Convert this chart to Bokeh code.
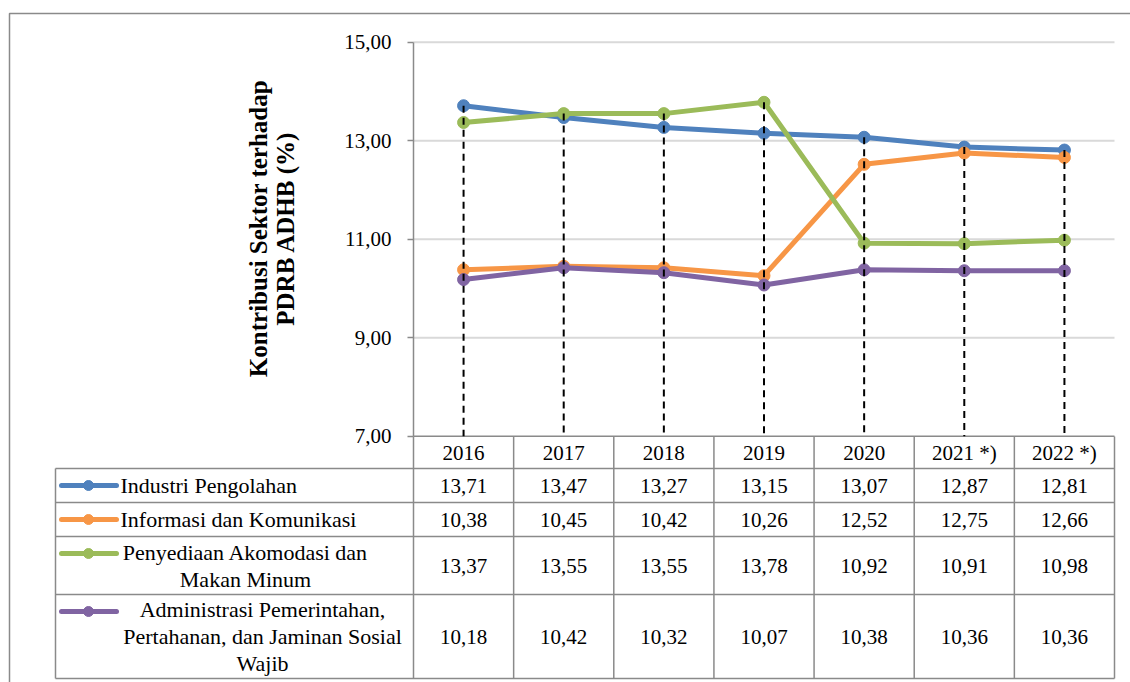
import math
from bokeh.plotting import figure
from bokeh.models import Range1d, LinearAxis, FixedTicker, CustomJSTickFormatter
from bokeh.core.properties import value
from bokeh.embed import file_html
from bokeh.resources import INLINE

# ---------------- data ----------------
years = ["2016", "2017", "2018", "2019", "2020", "2021 *)", "2022 *)"]
industri = [13.71, 13.47, 13.27, 13.15, 13.07, 12.87, 12.81]
informasi = [10.38, 10.45, 10.42, 10.26, 12.52, 12.75, 12.66]
akomodasi = [13.37, 13.55, 13.55, 13.78, 10.92, 10.91, 10.98]
administrasi = [10.18, 10.42, 10.32, 10.07, 10.38, 10.36, 10.36]
sector_names = [
    "Industri Pengolahan",
    "Informasi dan Komunikasi",
    "Penyediaan Akomodasi dan\nMakan Minum",
    "Administrasi Pemerintahan,\nPertahanan, dan Jaminan Sosial\nWajib",
]
y_ticks = [7, 9, 11, 13, 15]
y_title = "Kontribusi Sektor terhadap\nPDRB ADHB (%)"

series = [industri, informasi, akomodasi, administrasi]
colors = ["#4F81BD", "#F79646", "#9BBB59", "#8064A2"]

# ---------------- layout geometry (page pixels) ----------------
PAGE_L, PAGE_T, PAGE_R, PAGE_B = 0, 0, 1130, 682
W, H = PAGE_R - PAGE_L, PAGE_B - PAGE_T
AX_L, AX_R = 413.0, 1114.0          # plot area left / right
Y_TOP, Y_BOT = 41.7, 435.7          # pixel of 15 and 7
ncat = len(years)
colw = (AX_R - AX_L) / ncat
ppu = (Y_BOT - Y_TOP) / (y_ticks[-1] - y_ticks[0])
x_start = (PAGE_L - AX_L) / colw
x_end = ncat + (PAGE_R - AX_R) / colw
y_end = y_ticks[-1] + (Y_TOP - PAGE_T) / ppu
y_start = y_ticks[0] - (PAGE_B - Y_BOT) / ppu

GRAY = "#8a8a8a"
SERIF = value("Liberation Serif")

p = figure(width=W, height=H, output_backend="svg", toolbar_location=None,
           x_range=Range1d(x_start, x_end), y_range=Range1d(y_start, y_end),
           x_axis_location=None, y_axis_location=None, min_border=0)
p.outline_line_color = None
p.background_fill_color = "white"
p.border_fill_color = "white"
p.grid.visible = False
p.extra_x_ranges = {"px": Range1d(PAGE_L, PAGE_R)}
p.extra_y_ranges = {"py": Range1d(PAGE_B, PAGE_T)}

# outer chart border
p.line(x=[9, 9, PAGE_R + 5], y=[PAGE_B + 5, 13, 13], line_color=GRAY, line_width=1.5,
       x_range_name="px", y_range_name="py")

# gridlines
grid_vals = y_ticks[1:]
p.segment(x0=[0] * len(grid_vals), x1=[ncat] * len(grid_vals), y0=grid_vals, y1=grid_vals,
          line_color="#d9d9d9", line_width=2)

# y axis
yaxis = LinearAxis(fixed_location=0, ticker=FixedTicker(ticks=y_ticks),
                   bounds=(y_ticks[0], y_ticks[-1]),
                   formatter=CustomJSTickFormatter(code="return tick.toFixed(2).replace('.', ',');"))
yaxis.axis_line_color = GRAY
yaxis.axis_line_width = 1.5
yaxis.major_tick_line_color = GRAY
yaxis.major_tick_line_width = 1.5
yaxis.major_tick_out = 6
yaxis.major_tick_in = 0
yaxis.minor_tick_out = 0
yaxis.minor_tick_in = 0
yaxis.major_label_text_font = "Liberation Serif"
yaxis.major_label_text_font_size = "21px"
yaxis.major_label_text_color = "black"
yaxis.major_label_standoff = 16
p.add_layout(yaxis, "left")

# axis title
p.text(x=[271], y=[228], text=[y_title], angle=math.pi / 2, text_align="center",
       text_baseline="middle", text_font=SERIF, text_font_style="bold",
       text_font_size="25px", text_line_height=1.0, text_color="black",
       x_range_name="px", y_range_name="py")

# x axis line (7,00)
p.segment(x0=[0], x1=[ncat], y0=[y_ticks[0]], y1=[y_ticks[0]], line_color=GRAY, line_width=1.5)

xs = [i + 0.5 for i in range(ncat)]

# series lines and markers
for vals, c in zip(series, colors):
    p.line(x=xs, y=vals, line_color=c, line_width=5, line_join="round")
    p.scatter(x=xs, y=vals, size=12, fill_color=c, line_color=c)

# drop lines
tops = [max(v) for v in zip(*series)]
p.segment(x0=xs, x1=xs, y0=tops, y1=[y_ticks[0]] * ncat, line_color="black",
          line_width=2, line_dash="7 5")

# ---------------- data table ----------------
HEAD_T, HEAD_B = 436, 468
row_edges = [468, 502, 536, 594, 678]
LEG_L = 55

# horizontal lines
p.segment(x0=[LEG_L] * len(row_edges), x1=[AX_R] * len(row_edges), y0=row_edges, y1=row_edges,
          line_color=GRAY, line_width=1.5, x_range_name="px", y_range_name="py")
# vertical lines at category boundaries
bounds_x = list(range(ncat + 1))
p.segment(x0=bounds_x, x1=bounds_x, y0=[HEAD_T] * len(bounds_x), y1=[row_edges[-1]] * len(bounds_x),
          line_color=GRAY, line_width=1.5, y_range_name="py")
p.segment(x0=[LEG_L], x1=[LEG_L], y0=[row_edges[0]], y1=[row_edges[-1]],
          line_color=GRAY, line_width=1.5, x_range_name="px", y_range_name="py")

# header
p.text(x=xs, y=[(HEAD_T + HEAD_B) / 2] * ncat, text=years, text_align="center",
       text_baseline="middle", text_font=SERIF, text_font_size="21px", text_color="black",
       y_range_name="py")

row_centers = [(row_edges[i] + row_edges[i + 1]) / 2 for i in range(len(series))]
for r, vals in enumerate(series):
    p.text(x=xs, y=[row_centers[r]] * ncat, text=[f"{v:.2f}".replace(".", ",") for v in vals],
           text_align="center", text_baseline="middle", text_font=SERIF,
           text_font_size="21px", text_color="black", y_range_name="py")

# legend keys
key_y = [row_edges[i] + 17 for i in range(len(series))]
for r, c in enumerate(colors):
    p.line(x=[61, 116], y=[key_y[r]] * 2, line_color=c, line_width=5, line_cap="round",
           x_range_name="px", y_range_name="py")
    p.scatter(x=[88], y=[key_y[r]], size=10, fill_color=c, line_color=c,
              x_range_name="px", y_range_name="py")

# legend labels
label_x = [120, 120, 245, 262]
label_align = ["left", "left", "center", "center"]
for r, name in enumerate(sector_names):
    p.text(x=[label_x[r]], y=[row_centers[r]], text=[name], text_align=label_align[r],
           text_baseline="middle", text_font=SERIF, text_font_size="22px",
           text_line_height=1.08, text_color="black",
           x_range_name="px", y_range_name="py")

open("out.html", "w").write(file_html(p, INLINE))
